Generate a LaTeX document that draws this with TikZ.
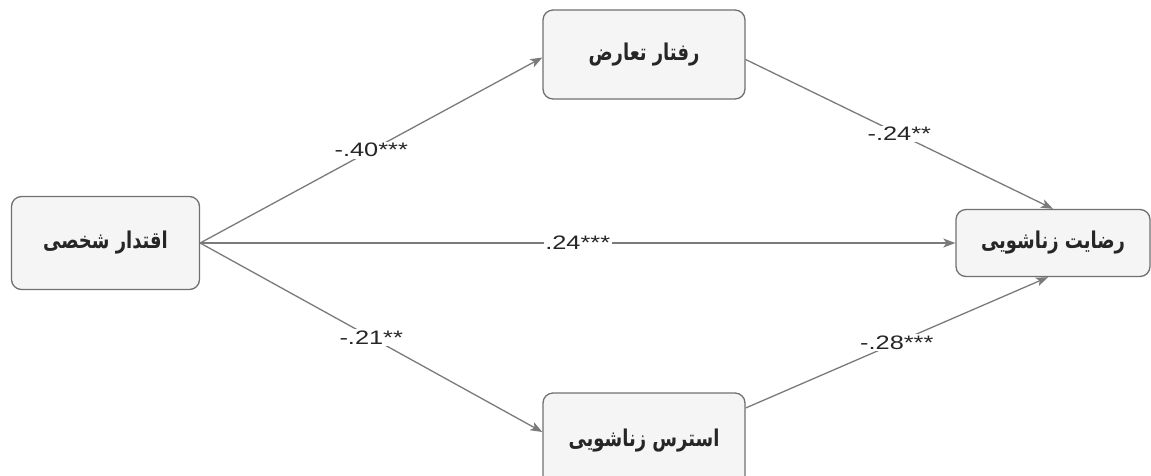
\documentclass[tikz,border=0pt]{standalone}
\usepackage{fontspec}
\setmainfont{Liberation Sans}
\newfontfamily\farsi[Script=Arabic]{DejaVu Sans}
\usepackage{graphicx}
\TeXXeTstate=1
\usetikzlibrary{arrows.meta}
\definecolor{boxfill}{HTML}{F5F5F5}
\definecolor{boxgray}{HTML}{707070}
\definecolor{linegray}{HTML}{7A7A7A}
\definecolor{textgray}{HTML}{262626}
\newcommand{\fa}[1]{\scalebox{0.97}[1.25]{\farsi\bfseries\beginR #1\endR}}
\newcommand{\coefval}[1]{\scalebox{1.3}[1]{#1}}

\begin{document}
\begin{tikzpicture}[x=1pt, y=-1pt, >={Stealth[length=12pt,width=9pt,inset=3pt]},
      state/.style={draw=boxgray, fill=boxfill, rounded corners=10pt,
        line width=1.3pt, text=textgray, inner sep=0pt,
        font=\fontsize{18.5}{22}\selectfont},
      link/.style={->, draw=linegray, line width=1.3pt},
      coef/.style={fill=white, inner sep=1.5pt, text=textgray,
        font=\fontsize{19.5}{22}\selectfont}]
      \clip (0,0) rectangle (1151,475);
      \useasboundingbox (0,0) rectangle (1151,475);
      % boxes;
      \node[state, minimum width=188pt, minimum height=93pt](power) at (105.5,243) {\fa{اقتدار شخصی}};
      \node[state, minimum width=202pt, minimum height=89pt](conflict) at (644,54.5) {\fa{رفتار تعارض}};
      \node[state, minimum width=202pt, minimum height=96pt](stress) at (644,441) {\fa{استرس زناشویی}};
      \node[state, minimum width=194pt, minimum height=67pt](satisf) at (1053,243) {\fa{رضایت زناشویی}};
      % paths;
      \draw[link] (power.east) -- node[coef]{\coefval{-.40***}} ([yshift=-3pt]conflict.west);
      \draw[link] ([yshift=-5pt]conflict.east) -- node[coef]{\coefval{-.24**}} (satisf.north);
      \draw[link] (power.east) -- node[coef]{\coefval{.24***}} (satisf.west);
      \draw[link] (power.east) -- node[coef]{\coefval{-.21**}} ([yshift=9pt]stress.west);
      \draw[link] ([yshift=33pt]stress.east) -- node[coef]{\coefval{-.28***}} ([xshift=-5pt]satisf.south);
  \end{tikzpicture}
\end{document}
